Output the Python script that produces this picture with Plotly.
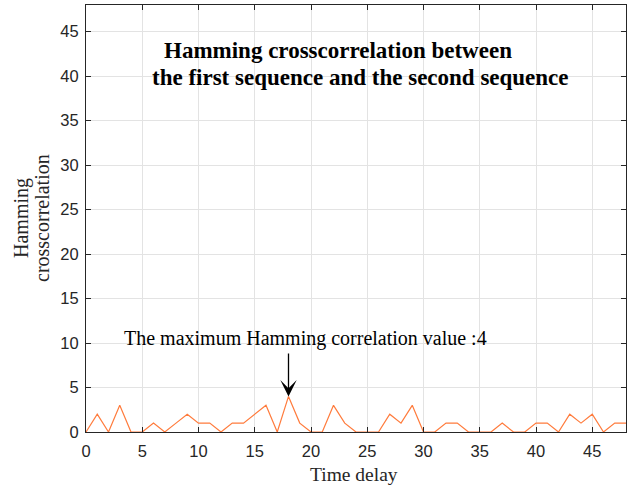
import plotly.graph_objects as go

delay = list(range(0, 49))
corr = [0, 2, 0, 3, 0, 0, 1, 0, 1, 2, 1, 1, 0, 1, 1, 2, 3, 0, 4, 1,
        0, 0, 3, 1, 0, 0, 0, 2, 1, 3, 0, 0, 1, 1, 0, 0, 0, 1, 0, 0,
        1, 1, 0, 2, 1, 2, 0, 1, 1]

xticks = [0, 5, 10, 15, 20, 25, 30, 35, 40, 45]
yticks = [0, 5, 10, 15, 20, 25, 30, 35, 40, 45]

title_lines = ["Hamming crosscorrelation between", "the first sequence and the second sequence"]
ylabel_lines = ["Hamming", "crosscorrelation"]
xlabel = "Time delay"
note_text = "The maximum Hamming correlation value :4"
peak_x, peak_y = 18, 4

serif = "Liberation Serif, Times New Roman, serif"
sans = "Liberation Sans, Arial, sans-serif"

fig = go.Figure()
fig.add_trace(go.Scatter(x=delay, y=corr, mode="lines",
                         line=dict(color="#ff7b3c", width=1.2),
                         showlegend=False, hoverinfo="skip"))

axis_common = dict(showline=True, linecolor="#262626", linewidth=1, mirror="ticks",
                   ticks="inside", ticklen=5, tickcolor="#262626",
                   showgrid=True, gridcolor="#e3e3e3", gridwidth=1, zeroline=False,
                   tickfont=dict(family=sans, size=16.5, color="#262626"))

fig.update_xaxes(range=[0, 48], tickvals=xticks, ticklabelstandoff=4, **axis_common)
fig.update_yaxes(range=[0, 48], tickvals=yticks, ticklabelstandoff=3, **axis_common)

# x-axis title
fig.add_annotation(x=(354 - 86) / 540, y=-(475 - 432) / 427, xref="paper", yref="paper",
                   text=xlabel, showarrow=False, xanchor="center", yanchor="middle",
                   font=dict(family=serif, size=19.5, color="#262626"))
# y-axis title (two lines)
for txt, px in zip(ylabel_lines, [21, 42]):
    fig.add_annotation(x=(px - 86) / 540, y=(432 - 218) / 427, xref="paper", yref="paper",
                       text=txt, showarrow=False, textangle=-90, xanchor="center", yanchor="middle",
                       font=dict(family=serif, size=20, color="#262626"))

# title inside the plot
for txt, cx, cy in zip(title_lines, [337.5, 360], [50, 78]):
    fig.add_annotation(x=(cx - 86) / 540, y=(432 - cy) / 427, xref="paper", yref="paper",
                       text="<b>" + txt + "</b>", showarrow=False, xanchor="center", yanchor="middle",
                       font=dict(family=serif, size=23, color="#000000"))

# note text
fig.add_annotation(x=(305 - 86) / 540, y=(432 - 338) / 427, xref="paper", yref="paper",
                   text=note_text, showarrow=False, xanchor="center", yanchor="middle",
                   font=dict(family=serif, size=20, color="#000000"))
# arrow to the peak
fig.add_annotation(x=peak_x, y=peak_y, xref="x", yref="y", text="",
                   showarrow=True, arrowhead=3, arrowsize=2.1, arrowwidth=1.3, arrowcolor="#000000",
                   ax=peak_x, ay=9.0, axref="x", ayref="y", standoff=0)

fig.update_layout(width=635, height=489, plot_bgcolor="white", paper_bgcolor="white",
                  margin=dict(l=86, r=9, t=5, b=57))

fig.write_html("out.html")
